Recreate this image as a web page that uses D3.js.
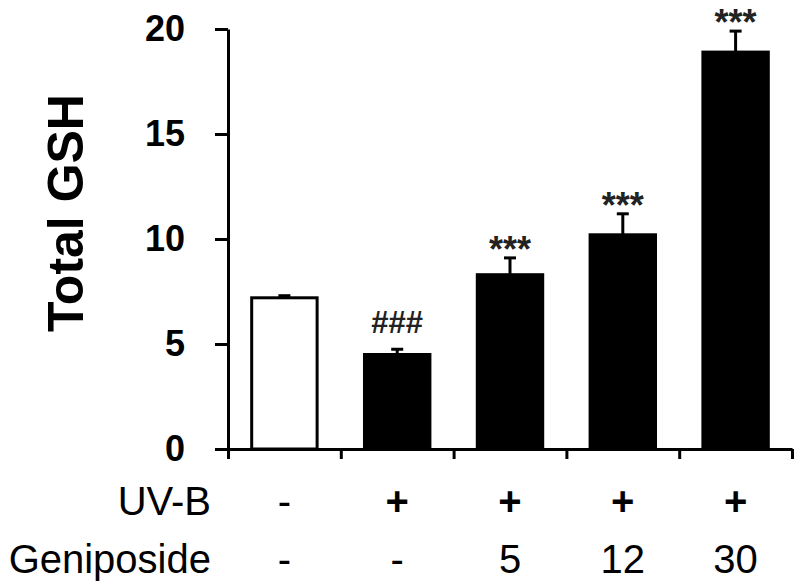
<!DOCTYPE html>
<html>
<head>
<meta charset="utf-8">
<script src="https://cdn.jsdelivr.net/npm/d3@7"></script>
<style>
  body { margin: 0; background: #fff; }
  text { font-family: Arial, "Liberation Sans", sans-serif; }
</style>
</head>
<body>
<div id="chart"></div>
<script>
    var width = 800,
        height = 584;

    // values
    var groups = [0, 1, 2, 3, 4];
    var uvbLabels = ["-", "+", "+", "+", "+"];
    var geniLabels = ["-", "-", "5", "12", "30"];
    var means = [7.2, 4.5, 8.3, 10.2, 18.9];
    var errors = [0.1, 0.25, 0.8, 1.0, 1.0];
    var marks = ["", "###", "***", "***", "***"];
    var fills = ["#fff", "#000", "#000", "#000", "#000"];
    var yTicks = [0, 5, 10, 15, 20];

    var svg = d3.select("#chart")
        .append("svg")
        .attr("width", width)
        .attr("height", height);

    var y = d3.scaleLinear().domain([0, 20]).range([449, 29]);

    var x = d3.scaleBand()
        .domain(groups)
        .range([228, 792])
        .paddingInner(0.42)
        .paddingOuter(0.21);

    // group boundaries for the x tick marks
    var xEdge = d3.scaleLinear().domain([0, 5]).range([228, 792]);

    // bars
    svg.selectAll(".bar")
        .data(groups)
        .enter()
        .append("rect")
        .attr("class", "bar")
        .attr("x", function(d) { return x(d); })
        .attr("width", x.bandwidth())
        .attr("y", function(d) { return y(means[d]); })
        .attr("height", function(d) { return y(0) - y(means[d]); })
        .attr("fill", function(d) { return fills[d]; })
        .attr("stroke", "#000")
        .attr("stroke-width", 3);

    // error bars (upper half only)
    var err = svg.selectAll(".err")
        .data(groups)
        .enter()
        .append("g")
        .attr("class", "err")
        .attr("stroke", "#000")
        .attr("stroke-width", 3);

    err.append("line")
        .attr("x1", function(d) { return x(d) + x.bandwidth() / 2; })
        .attr("x2", function(d) { return x(d) + x.bandwidth() / 2; })
        .attr("y1", function(d) { return y(means[d]); })
        .attr("y2", function(d) { return y(means[d] + errors[d]); });

    err.append("line")
        .attr("x1", function(d) { return x(d) + x.bandwidth() / 2 - 6; })
        .attr("x2", function(d) { return x(d) + x.bandwidth() / 2 + 6; })
        .attr("y1", function(d) { return y(means[d] + errors[d]); })
        .attr("y2", function(d) { return y(means[d] + errors[d]); });

    // significance marks
    svg.selectAll(".sig")
        .data(groups)
        .enter()
        .append("text")
        .attr("class", "sig")
        .attr("x", function(d) { return x(d) + x.bandwidth() / 2; })
        .attr("y", function(d) {
            var top = y(means[d] + errors[d]);
            return marks[d] === "###" ? top - 16 : top + 4;
        })
        .attr("text-anchor", "middle")
        .style("font-size", function(d) { return marks[d] === "###" ? "31px" : "36px"; })
        .style("font-weight", "bold")
        .attr("fill", "#222")
        .text(function(d) { return marks[d]; });

    // y axis
    var yAxis = svg.append("g")
        .attr("transform", "translate(228,0)")
        .call(d3.axisLeft(y).tickValues(yTicks).tickSize(13).tickPadding(30).tickSizeOuter(0));

    yAxis.select(".domain").attr("stroke-width", 3);
    yAxis.selectAll(".tick line").attr("stroke-width", 3);
    yAxis.selectAll(".tick text")
        .style("font-size", "36px")
        .style("font-weight", "bold")
        .attr("fill", "#000")
        .attr("font-family", null);

    // x axis
    var xAxis = svg.append("g")
        .attr("transform", "translate(0,449)")
        .call(d3.axisBottom(xEdge).tickValues([0, 1, 2, 3, 4, 5]).tickSize(10).tickSizeOuter(0).tickFormat(""));

    xAxis.select(".domain").attr("stroke-width", 3);
    xAxis.selectAll(".tick line").attr("stroke-width", 3);

    // y label
    svg.append("text")
        .attr("transform", "translate(83,213) rotate(-90)")
        .attr("text-anchor", "middle")
        .style("font-size", "50px")
        .style("font-weight", "bold")
        .text("Total GSH");

    // treatment rows under the axis
    var rows = [
        { name: "UV-B", labels: uvbLabels, y: 515 },
        { name: "Geniposide", labels: geniLabels, y: 573 }
    ];

    rows.forEach(function(r) {
        svg.append("text")
            .attr("x", 211)
            .attr("y", r.y)
            .attr("text-anchor", "end")
            .style("font-size", "40px")
            .text(r.name);

        svg.selectAll(null)
            .data(groups)
            .enter()
            .append("text")
            .attr("x", function(d) { return x(d) + x.bandwidth() / 2; })
            .attr("y", r.y)
            .attr("text-anchor", "middle")
            .style("font-size", "40px")
            .style("font-weight", function(d) { return r.labels[d] === "+" ? "bold" : "normal"; })
            .text(function(d) { return r.labels[d]; });
    });
</script>
</body>
</html>
